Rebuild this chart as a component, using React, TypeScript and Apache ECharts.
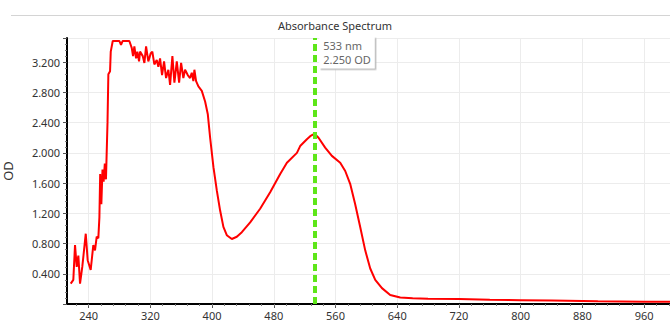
import React, { useEffect, useRef } from "react";
import * as echarts from "echarts";

const wavelengths = [
  216.8, 220.2, 222.4, 224.6, 226.7, 228.9, 231.8, 236.3, 238.8, 242.7, 246.1, 248.3, 250.5, 252.6,
  254, 255, 256.5, 258, 259.5, 261, 262.5, 264.5, 265.6, 267.8, 268.7, 271.3, 276, 280, 282, 284, 290, 292.8,
  295.9, 297.6, 299.3, 301.5, 303.2, 305.4,
  306.7, 310.2, 312.3, 314.5, 317.4, 320.6, 322.6, 325.2, 328.3, 330.4, 332.6, 335.2, 337.8, 340.4,
  343.4, 345.6, 348.6, 351.2, 354.3, 357.3, 359.9, 362.8, 365, 368.5, 371.5, 373.7, 375.8, 377.1,
  379.3, 382.3, 386.7, 391, 394.5, 397.5, 401.8, 406.2, 410.4, 414.7, 419.1, 425.6, 432.1, 438.6,
  449.4, 462.3, 475.3, 488.3, 497, 510, 514.2, 522.9, 527.2, 530.7, 533, 538, 546.6, 555.3, 566.1,
  572.6, 579, 585.5, 592, 598.5, 605, 611.5, 620.2, 630.9, 643.9, 660, 680, 720, 760, 800, 840, 880,
  900, 960, 1000,
];

const absorbance = [
  0.27, 0.32, 0.78, 0.49, 0.64, 0.27, 0.49, 0.93, 0.58, 0.45, 0.78, 0.71, 0.89, 0.87,
  1.15, 1.72, 1.32, 1.78, 1.62, 1.86, 1.65, 2.4, 3.04, 3.08, 3.34, 3.48, 3.48, 3.48, 3.43, 3.48, 3.48, 3.48,
  3.39, 3.28, 3.41, 3.25, 3.34, 3.21,
  3.34, 3.28, 3.19, 3.41, 3.21, 3.32, 3.34, 3.17, 3.23, 3.14, 3.25, 3.03, 3.21, 2.99,
  3.1, 2.9, 3.28, 2.93, 3.21, 2.93, 3.19, 2.99, 3.1, 3.03, 2.99, 3.06, 2.95, 3.1,
  2.95, 2.88, 2.82, 2.68, 2.51, 2.2, 1.81, 1.5, 1.24, 1.02, 0.91, 0.86, 0.89, 0.95,
  1.08, 1.26, 1.48, 1.72, 1.87, 2.0, 2.09, 2.18, 2.22, 2.24, 2.25, 2.2, 2.07, 1.96, 1.87,
  1.76, 1.59, 1.32, 1.02, 0.71, 0.47, 0.32, 0.21, 0.12, 0.085, 0.075, 0.07, 0.065, 0.055, 0.05, 0.045, 0.04,
  0.035, 0.03, 0.03,
];

const xTickLabels = [240, 320, 400, 480, 560, 640, 720, 800, 880, 960];
const yTickLabels = [0.4, 0.8, 1.2, 1.6, 2.0, 2.4, 2.8, 3.2];
const yTickStep = 0.4;
const peakNm = 533;
const peakOd = 2.25;
const titleText = "Absorbance Spectrum";
const yName = "OD";

export default function App() {
  const ref = useRef<HTMLDivElement>(null);

  useEffect(() => {
    if (!ref.current) return;
    const chart = echarts.init(ref.current, null, { renderer: "svg" });
    const minorX: number[] = [];
    for (let v = 224; v <= 992; v += 16) minorX.push(v);
    const font = "Noto Sans";
    chart.setOption({
      animation: false,
      textStyle: { fontFamily: font },
      title: {
        text: titleText,
        left: "center",
        top: 15,
        textStyle: { fontSize: 11, fontWeight: "normal", color: "#333", fontFamily: font },
      },
      graphic: [
        {
          type: "line",
          shape: { x1: 11, y1: 15.5, x2: 670, y2: 15.5 },
          style: { stroke: "#d4d4d4", lineWidth: 1 },
        },
      ],
      grid: { left: 67, top: 38, right: -5, bottom: 20, containLabel: false, outerBoundsMode: "none" },
      xAxis: [
        {
          type: "value",
          min: 212,
          max: 1000,
          axisLine: { show: true, onZero: false, lineStyle: { color: "#000", width: 2 } },
          axisTick: { show: true, length: 4, customValues: xTickLabels, lineStyle: { color: "#555" } },
          axisLabel: {
            customValues: xTickLabels,
            color: "#333",
            fontSize: 11,
            margin: 6,
            fontFamily: font,
          },
          splitLine: { show: true, lineStyle: { color: "#ececec", width: 1 } },
        },
        {
          type: "value",
          min: 212,
          max: 1000,
          position: "bottom",
          axisLine: { show: false },
          axisTick: { show: true, length: 2, customValues: minorX, lineStyle: { color: "#777" } },
          axisLabel: { show: false },
          splitLine: { show: false },
        },
      ],
      yAxis: {
        type: "value",
        min: 0,
        max: 3.52,
        interval: yTickStep,
        name: yName,
        nameLocation: "middle",
        nameGap: 53,
        nameTextStyle: { fontSize: 13, color: "#333", fontFamily: font },
        axisLine: { show: true, onZero: false, lineStyle: { color: "#000", width: 2 } },
        axisTick: { show: true, length: 4, lineStyle: { color: "#555" } },
        minorTick: { show: true, splitNumber: 5, length: 2, lineStyle: { color: "#777" } },
        axisLabel: {
          customValues: yTickLabels,
          color: "#333",
          fontSize: 11,
          margin: 7,
          fontFamily: font,
          formatter: (v: number) => v.toFixed(3),
        },
        splitLine: { show: true, lineStyle: { color: "#ececec", width: 1 } },
      },
      series: [
        {
          type: "line",
          data: wavelengths.map((w, i) => [w, absorbance[i]]),
          showSymbol: false,
          symbol: "none",
          lineStyle: { color: "#ff0000", width: 2 },
          clip: true,
          markLine: {
            silent: true,
            symbol: "none",
            label: { show: false },
            lineStyle: { color: "#5ee619", width: 4, type: [7, 4] },
            data: [{ xAxis: peakNm }],
          },
          markPoint: {
            silent: true,
            symbol: "circle",
            symbolSize: 1,
            itemStyle: { color: "transparent" },
            label: {
              show: true,
              position: [5, -1],
              formatter: `${peakNm} nm\n${peakOd.toFixed(3)} OD`,
              color: "#666",
              fontSize: 11,
              lineHeight: 14,
              fontFamily: font,
              backgroundColor: "#fff",
              padding: [2, 4, 2, 4],
              shadowColor: "#bbb",
              shadowBlur: 0,
              shadowOffsetX: 1.5,
              shadowOffsetY: 1.5,
            },
            data: [{ coord: [peakNm, 3.52] }],
          },
        },
      ],
    });
    return () => chart.dispose();
  }, []);

  return (
    <div
      ref={ref}
      style={{ position: "fixed", left: 0, top: 0, width: 670, height: 324, background: "#fff" }}
    />
  );
}
